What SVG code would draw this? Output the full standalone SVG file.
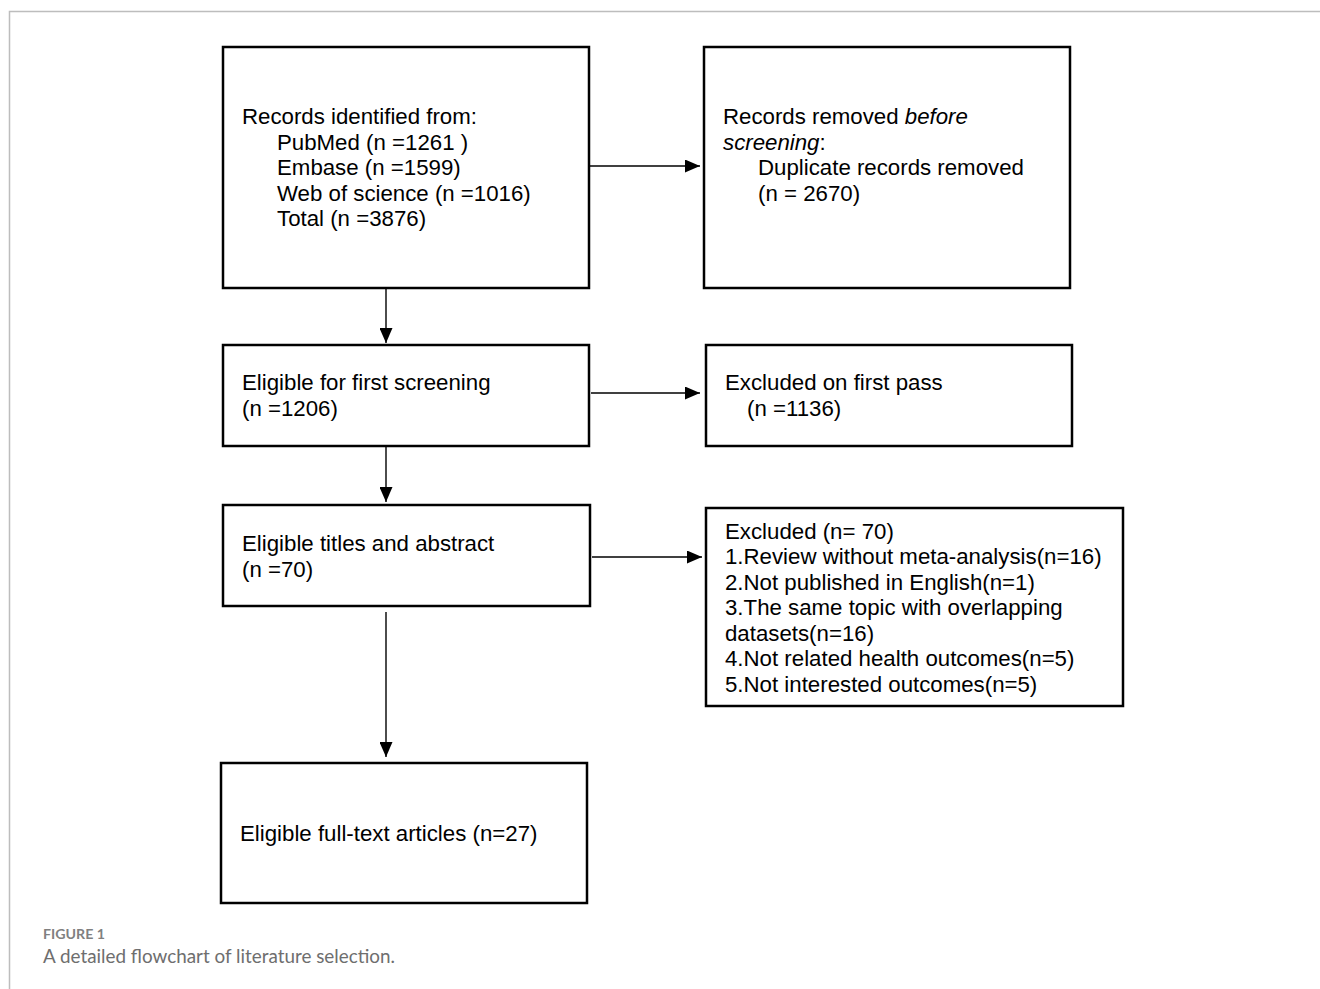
<svg xmlns="http://www.w3.org/2000/svg" width="1320" height="989" viewBox="0 0 1320 989">
<style>
.box{fill:#fff;stroke:#000;stroke-width:2.5}
.t{font-family:"Liberation Sans",Arial,sans-serif;font-size:22.25px;fill:#000}
.c{stroke:#000;stroke-width:1.4;fill:none}
.frame{stroke:#bdbdbd;stroke-width:1.5;fill:none}
.cap1{font-family:Lato,"Open Sans",sans-serif;font-size:13.5px;font-weight:bold;fill:#808080}
.cap2{font-family:Lato,"Open Sans",sans-serif;font-size:18.5px;fill:#6e6e6e}
</style>
<defs>
<marker id="ah" viewBox="0 0 15 13" refX="15" refY="6.5" markerWidth="15" markerHeight="13" markerUnits="userSpaceOnUse" orient="auto">
<path d="M0,0 L15,6.5 L0,13 Z" fill="#000"/>
</marker>
</defs>
<rect width="1320" height="989" fill="#fff"/>
<path class="frame" d="M9.5,989 V11.5 H1320"/>
<g id="connectors">
<line class="c" x1="590" y1="166" x2="700" y2="166" marker-end="url(#ah)"/>
<line class="c" x1="591" y1="393" x2="700" y2="393" marker-end="url(#ah)"/>
<line class="c" x1="592" y1="557" x2="702" y2="557" marker-end="url(#ah)"/>
<line class="c" x1="386" y1="289" x2="386" y2="343" marker-end="url(#ah)"/>
<line class="c" x1="386" y1="447" x2="386" y2="502" marker-end="url(#ah)"/>
<line class="c" x1="386" y1="612" x2="386" y2="757" marker-end="url(#ah)"/>
</g>
<g id="n1">
<rect class="box" x="223" y="47" width="366" height="241"/>
<text class="t" x="242" y="124">Records identified from:</text>
<text class="t" x="277" y="150">PubMed (n =1261 )</text>
<text class="t" x="277" y="175">Embase (n =1599)</text>
<text class="t" x="277" y="201">Web of science (n =1016)</text>
<text class="t" x="277" y="226">Total (n =3876)</text>
</g>
<g id="n2">
<rect class="box" x="704" y="47" width="366" height="241"/>
<text class="t" x="723" y="124">Records removed <tspan font-style="italic">before</tspan></text>
<text class="t" x="723" y="150"><tspan font-style="italic">screening</tspan>:</text>
<text class="t" x="758" y="175">Duplicate records removed</text>
<text class="t" x="758" y="201">(n = 2670)</text>
</g>
<g id="n3">
<rect class="box" x="223" y="345" width="366" height="101"/>
<text class="t" x="242" y="390">Eligible for first screening</text>
<text class="t" x="242" y="416">(n =1206)</text>
</g>
<g id="n4">
<rect class="box" x="706" y="345" width="366" height="101"/>
<text class="t" x="725" y="390">Excluded on first pass</text>
<text class="t" x="747" y="416">(n =1136)</text>
</g>
<g id="n5">
<rect class="box" x="223" y="505" width="367" height="101"/>
<text class="t" x="242" y="551">Eligible titles and abstract</text>
<text class="t" x="242" y="577">(n =70)</text>
</g>
<g id="n6">
<rect class="box" x="706" y="508" width="417" height="198"/>
<text class="t" x="725" y="539">Excluded (n= 70)</text>
<text class="t" x="725" y="564">1.Review without meta-analysis(n=16)</text>
<text class="t" x="725" y="590">2.Not published in English(n=1)</text>
<text class="t" x="725" y="615">3.The same topic with overlapping</text>
<text class="t" x="725" y="641">datasets(n=16)</text>
<text class="t" x="725" y="666">4.Not related health outcomes(n=5)</text>
<text class="t" x="725" y="692">5.Not interested outcomes(n=5)</text>
</g>
<g id="n7">
<rect class="box" x="221" y="763" width="366" height="140"/>
<text class="t" x="240" y="841">Eligible full-text articles (n=27)</text>
</g>
<text class="cap1" x="43" y="939" textLength="62" lengthAdjust="spacingAndGlyphs">FIGURE 1</text>
<text class="cap2" x="43" y="963" textLength="352" lengthAdjust="spacingAndGlyphs">A detailed flowchart of literature selection.</text>
</svg>
